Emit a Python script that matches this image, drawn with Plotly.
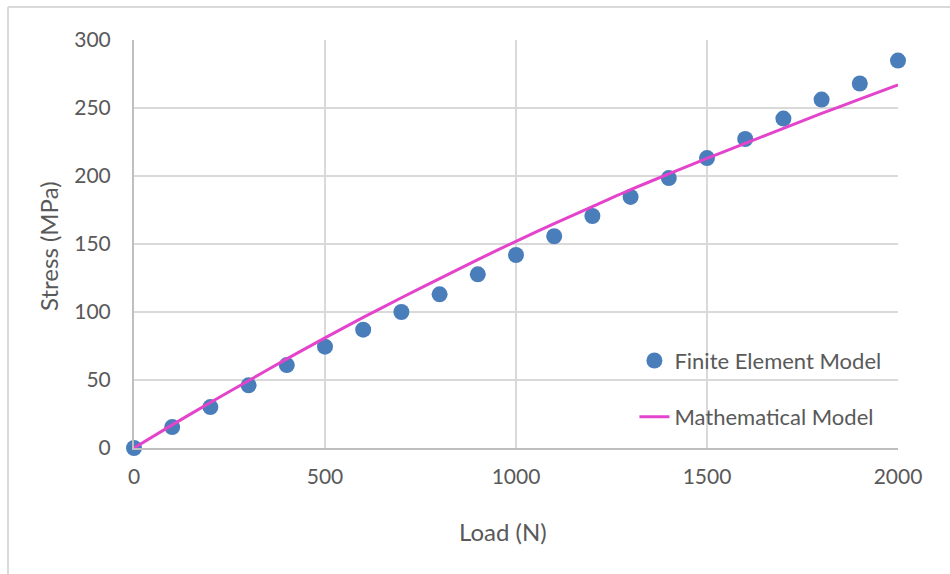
import plotly.graph_objects as go

# Load steps (N)
load_n = [0, 100, 200, 300, 400, 500, 600, 700, 800, 900, 1000,
          1100, 1200, 1300, 1400, 1500, 1600, 1700, 1800, 1900, 2000]

# Finite element results (MPa)
fem_stress = [0, 15.4, 30.1, 46.1, 61.0, 74.5, 87.0, 100.0, 113.0, 127.7, 141.9,
              155.7, 170.6, 184.6, 198.5, 213.2, 227.2, 242.2, 256.2, 268.0, 284.9]

# Analytical (mathematical) model (MPa)
math_stress = [0, 17.0, 33.5, 49.5, 65.5, 81.0, 96.0, 110.5, 124.5, 138.5, 152.0,
               165.0, 177.5, 190.0, 201.5, 213.0, 224.0, 235.0, 246.0, 256.5, 267.0]

x_ticks = [0, 500, 1000, 1500, 2000]
y_ticks = [0, 50, 100, 150, 200, 250, 300]

FONT = "Lato"
TXT = "#595959"
GRID = "#d9d9d9"

fig = go.Figure()

fig.add_trace(go.Scatter(
    x=load_n, y=fem_stress, mode="markers",
    name="Finite Element Model",
    marker=dict(size=16, color="#4a7ebb"),
    cliponaxis=False,
    legend="legend",
))

fig.add_trace(go.Scatter(
    x=load_n, y=math_stress, mode="lines",
    name="Mathematical Model",
    line=dict(color="#e444cc", width=3, shape="spline", smoothing=0.6),
    cliponaxis=False,
    legend="legend2",
))

fig.update_layout(
    width=950, height=574,
    margin=dict(l=134, r=52, t=40, b=126),
    paper_bgcolor="white", plot_bgcolor="white",
    font=dict(family=FONT, color=TXT, size=21),
    showlegend=True,
    legend=dict(x=0.655, y=0.214, xanchor="left", yanchor="middle",
                bgcolor="rgba(0,0,0,0)", font=dict(size=22, color=TXT),
                itemwidth=30),
    legend2=dict(x=0.655, y=0.076, xanchor="left", yanchor="middle",
                 bgcolor="rgba(0,0,0,0)", font=dict(size=22, color=TXT),
                 itemwidth=30),
    xaxis=dict(
        range=[0, 2000], tickvals=x_ticks,
        showgrid=True, gridcolor=GRID, gridwidth=2,
        zeroline=False, showline=True, linecolor="#bfbfbf", linewidth=2,
        ticks="", ticklabelstandoff=9,
        tickfont=dict(size=21, color=TXT, family=FONT),
    ),
    yaxis=dict(
        range=[0, 300], tickvals=y_ticks,
        showgrid=True, gridcolor=GRID, gridwidth=2,
        zeroline=False, showline=True, linecolor="#bfbfbf", linewidth=2,
        ticks="", ticklabelstandoff=17,
        tickfont=dict(size=21, color=TXT, family=FONT),
    ),
    annotations=[
        dict(text="Load (N)", xref="paper", yref="paper",
             x=(503 - 134) / 764, y=-(531 - 448) / 408,
             xanchor="center", yanchor="middle", showarrow=False,
             font=dict(size=24, color=TXT, family=FONT)),
        dict(text="Stress (MPa)", xref="paper", yref="paper",
             x=-(134 - 48) / 764, y=(448 - 246) / 408, textangle=-90,
             xanchor="center", yanchor="middle", showarrow=False,
             font=dict(size=24, color=TXT, family=FONT)),
    ],
    shapes=[
        # chart frame (left and top edges)
        dict(type="line", xref="paper", yref="paper",
             x0=-(134 - 8) / 764, x1=(950 - 134) / 764,
             y0=(448 - 7) / 408, y1=(448 - 7) / 408,
             line=dict(color=GRID, width=2)),
        dict(type="line", xref="paper", yref="paper",
             x0=-(134 - 8) / 764, x1=-(134 - 8) / 764,
             y0=(448 - 7) / 408, y1=-(574 - 448) / 408,
             line=dict(color=GRID, width=2)),
    ],
)

fig.write_html("out.html")
